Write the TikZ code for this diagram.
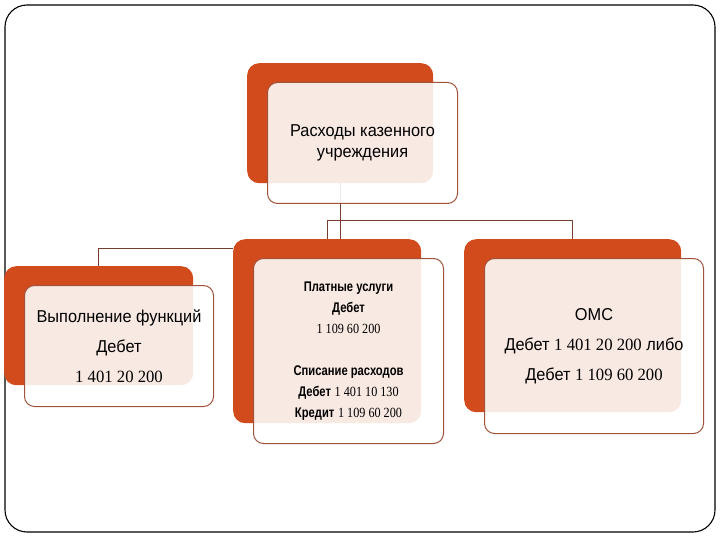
\documentclass[tikz,border=0pt]{standalone}
\usepackage{fontspec}
\setmainfont{Liberation Sans}[FakeStretch=0.95]
\newfontfamily\numf{Liberation Serif}[FakeStretch=0.97]
\newfontfamily\condb{Liberation Sans}[FakeStretch=0.8]
\newfontfamily\condn{Liberation Serif}[FakeStretch=0.87]
\definecolor{orng}{RGB}{209,75,29}
\definecolor{edgec}{RGB}{160,82,58}
\definecolor{connc}{RGB}{118,62,48}
\pgfdeclarelayer{bg}
\pgfsetlayers{bg,main}
\tikzset{
  orangebox/.style={draw=none, fill=orng, rounded corners=12pt, anchor=north west, inner sep=0pt},
  textbox/.style={draw=edgec, line width=1pt, fill=white, fill opacity=0.88, text opacity=1, rounded corners=10pt, anchor=north west, inner sep=0pt, align=center},
  conn/.style={draw=connc, line width=0.9pt},
  frame/.style={draw=black, line width=1.1pt, rounded corners=22pt}
}
\begin{document}
\begin{tikzpicture}[x=1pt,y=-1pt]
\useasboundingbox (0,0) rectangle (720,540);
\draw[frame] (5,5) rectangle (715,532);
% top
\node[orangebox, minimum width=186pt, minimum height=120pt] (topO) at (247,63) {};
\node[textbox, minimum width=190pt, minimum height=121pt, font=\fontsize{17.2}{21}\selectfont] (topT) at (267,82) {Расходы казенного\\учреждения};
% left
\node[orangebox, minimum width=189pt, minimum height=119pt] (leftO) at (4,266) {};
\node[textbox, minimum width=189pt, minimum height=121pt, font=\fontsize{17.2}{30}\selectfont] (leftT) at (24,285) {Выполнение функций\\Дебет\\{\numf 1 401 20 200}};
% middle
\node[orangebox, minimum width=188pt, minimum height=184pt] (midO) at (233,239) {};
\node[textbox, minimum width=190pt, minimum height=185pt, font=\fontsize{14}{21}\selectfont] (midT) at (253,258) {{\condb\bfseries Платные услуги}\\{\condb\bfseries Дебет}\\{\condn 1 109 60 200}\\[21pt]{\condb\bfseries Списание расходов}\\{\condb\bfseries Дебет} {\condn 1 401 10 130}\\{\condb\bfseries Кредит} {\condn 1 109 60 200}};
% right
\node[orangebox, minimum width=217pt, minimum height=173pt] (rightO) at (464,239) {};
\node[textbox, minimum width=219pt, minimum height=175pt, font=\fontsize{17.2}{30}\selectfont] (rightT) at (484,258) {ОМС\\Дебет {\numf 1 401 20 200} либо\\Дебет {\numf 1 109 60 200}};
% connectors
\coordinate (jn) at (0,220);
\begin{pgfonlayer}{bg}
\draw[conn] (topO.south) -- (topO.south |- midO.north);
\draw[conn] (midO.north) -- (midO.north |- jn) -| (rightO.north);
\draw[conn] ([yshift=-9pt]midO.north west) -| (leftO.north);
\end{pgfonlayer}
\end{tikzpicture}
\end{document}
